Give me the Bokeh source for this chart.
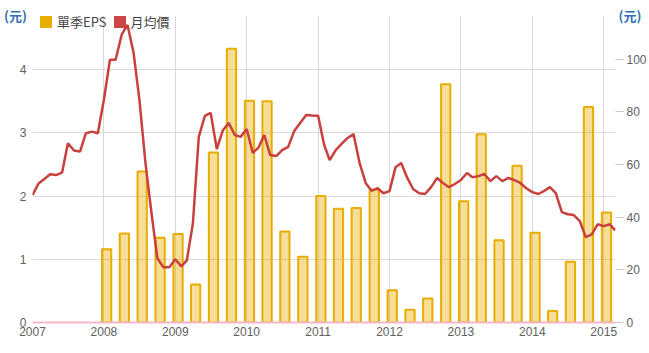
import pandas as pd
from bokeh.plotting import figure
from bokeh.models import (Range1d, LinearAxis, FixedTicker, Legend, LegendItem)
from bokeh.embed import file_html
from bokeh.resources import INLINE

# ---------------- data ----------------
months = pd.date_range("2007-01-01", "2015-03-01", freq="MS")
price = [48.4, 52.8, 54.4, 56.3, 56.0, 56.9, 68.1, 65.3, 64.9, 71.9, 72.5, 71.9,
         84.6, 99.8, 99.8, 109.3, 113.0, 102.5, 84.6, 60.6, 41.5, 24.4, 21.0, 21.0,
         24.0, 21.3, 23.6, 37.7, 70.5, 78.5, 79.6, 65.9, 73.0, 75.8, 71.2, 70.5,
         73.5, 64.4, 66.3, 71.2, 63.6, 63.2, 65.5, 66.7, 72.7, 75.8, 78.8, 78.6,
         78.5, 67.4, 61.7, 65.5, 67.8, 70.1, 71.6, 60.6, 53.0, 50.0, 51.0, 49.1,
         49.9, 59.0, 60.6, 54.9, 50.7, 49.1, 48.8, 51.4, 54.9, 53.0, 51.4, 52.6,
         54.1, 56.8, 55.2, 55.6, 56.4, 53.7, 55.6, 53.7, 54.9, 54.1, 53.0, 51.0,
         49.5, 48.8, 49.9, 51.4, 49.1, 41.9, 41.1, 40.8, 38.5, 32.4, 33.5, 37.3,
         36.6, 37.3, 35.0]
quarters = pd.date_range("2008-01-01", "2015-01-01", freq="QS") + pd.Timedelta(days=14)
eps = [1.16, 1.41, 2.39, 1.34, 1.40, 0.60, 2.69, 4.33, 3.51, 3.50, 1.44, 1.04,
       2.00, 1.80, 1.81, 2.10, 0.51, 0.20, 0.38, 3.77, 1.92, 2.98, 1.30, 2.48,
       1.42, 0.18, 0.96, 3.41, 1.74]
year_ticks = list(range(2007, 2016))
left_ticks = [0, 1, 2, 3, 4]
right_ticks = [0, 20, 40, 60, 80, 100]
unit_label = "(元)"


def dec_year(ts):
    return [t.year + (t.dayofyear - 1) / (366 if t.is_leap_year else 365) for t in ts]


mx = dec_year(months)
qx = dec_year(quarters)

FONT = "Liberation Sans"
CJK = "Noto Sans CJK TC"
LBL = "#606060"
GRID = "#d9d9d9"
BLUE = "#2f6fb3"

p = figure(width=649, height=353, x_range=Range1d(2007, 2015.165),
           y_range=Range1d(0, 4.857), output_backend="svg", toolbar_location=None,
           min_border_left=32, min_border_right=34, min_border_top=15,
           min_border_bottom=31)
p.outline_line_color = None
p.extra_y_ranges = {"price": Range1d(0, 116.6)}

# x axis
p.xaxis.ticker = FixedTicker(ticks=year_ticks)
p.xaxis.major_tick_out = 0
p.xaxis.major_tick_in = 0
p.xaxis.minor_tick_out = 0
p.xaxis.minor_tick_line_color = None
p.xaxis.axis_line_color = "#f4b8c4"
p.xaxis.axis_line_width = 2
p.xaxis.major_label_standoff = 4
p.xaxis.major_label_text_font = FONT
p.xaxis.major_label_text_font_size = "12px"
p.xaxis.major_label_text_color = LBL

# left axis
la = p.yaxis[0]
la.ticker = FixedTicker(ticks=left_ticks)
la.major_tick_out = 0
la.major_tick_in = 0
la.minor_tick_out = 0
la.minor_tick_line_color = None
la.axis_line_color = None
la.major_label_standoff = 6
la.major_label_text_font = FONT
la.major_label_text_font_size = "12px"
la.major_label_text_color = LBL
la.axis_label = unit_label
la.axis_label_orientation = "horizontal"
la.axis_label_align = "end"
la.axis_label_standoff = -10
la.axis_label_text_font = CJK
la.axis_label_text_font_size = "13px"
la.axis_label_text_font_style = "bold"
la.axis_label_text_color = BLUE

# right axis
ra = LinearAxis(y_range_name="price", ticker=FixedTicker(ticks=right_ticks))
ra.major_tick_in = 0
ra.major_tick_out = 8
ra.major_tick_line_color = "#c8c8c8"
ra.minor_tick_out = 0
ra.minor_tick_line_color = None
ra.axis_line_color = None
ra.major_label_standoff = 3
ra.major_label_text_font = FONT
ra.major_label_text_font_size = "12px"
ra.major_label_text_color = LBL
ra.axis_label = unit_label
ra.axis_label_orientation = "horizontal"
ra.axis_label_align = "end"
ra.axis_label_standoff = -31
ra.axis_label_text_font = CJK
ra.axis_label_text_font_size = "13px"
ra.axis_label_text_font_style = "bold"
ra.axis_label_text_color = BLUE
p.add_layout(ra, "right")

p.xgrid.ticker = FixedTicker(ticks=year_ticks)
p.xgrid.grid_line_color = GRID
p.ygrid.grid_line_color = GRID

# bars + line
p.vbar(x=qx, top=eps, width=0.13, bottom=0, fill_color="#e8ad00",
       fill_alpha=0.4, line_color="#e8ad00", line_width=2)
p.line(mx, price, y_range_name="price", line_color="#c9403e", line_width=2.5)

# legend proxies (solid swatches, NaN data so nothing is drawn in the plot)
nan = float("nan")
r1 = p.vbar(x=[nan], top=[nan], width=0.1, fill_color="#e8ad00", line_color=None)
r2 = p.vbar(x=[nan], top=[nan], width=0.1, fill_color="#cc4444", line_color=None)
legend = Legend(items=[LegendItem(label="單季EPS", renderers=[r1]),
                       LegendItem(label="月均價", renderers=[r2])],
                orientation="horizontal", location=(6, 291),
                border_line_color=None, background_fill_alpha=0,
                label_text_font=CJK, label_text_font_size="13px",
                label_text_color="#444444", glyph_width=15, glyph_height=15,
                label_standoff=4, spacing=5, padding=0, margin=0,
                label_height=15)
p.add_layout(legend)

open("out.html", "w").write(file_html(p, INLINE))
